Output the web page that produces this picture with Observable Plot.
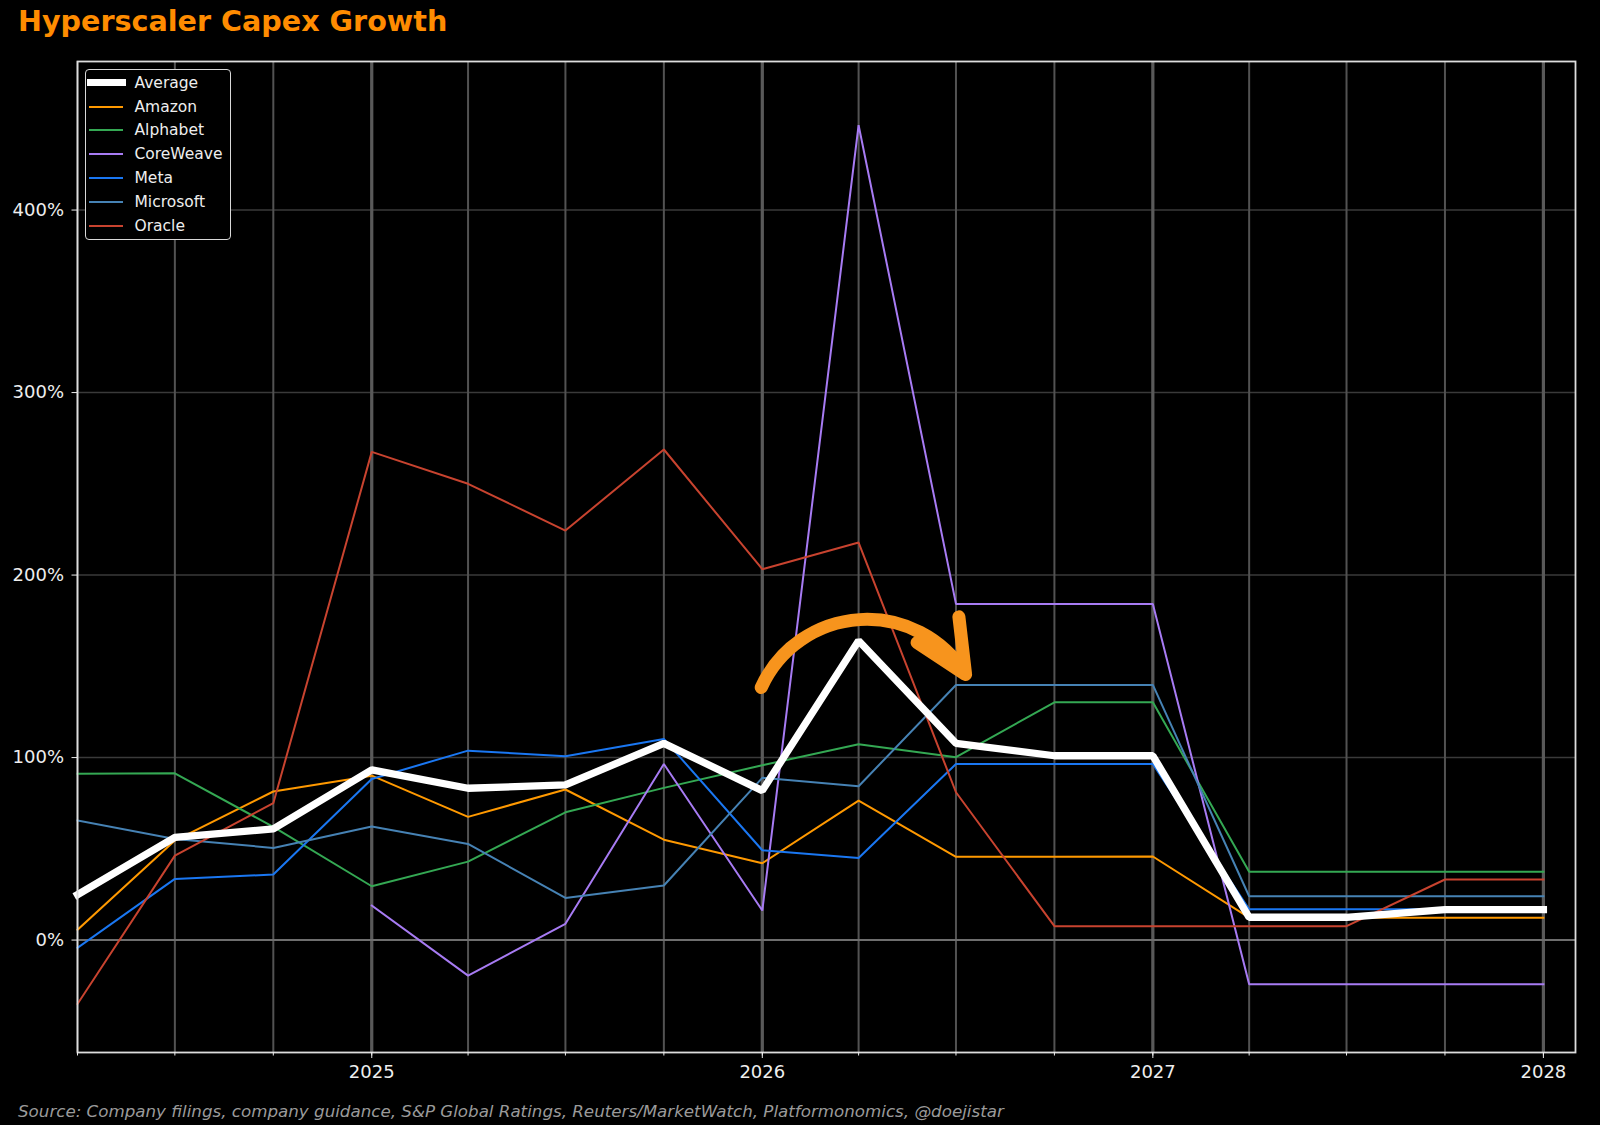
<!DOCTYPE html>
<html>
<head>
<meta charset="utf-8">
<script src="https://cdn.jsdelivr.net/npm/d3@7"></script>
<script src="https://cdn.jsdelivr.net/npm/@observablehq/plot@0.6"></script>
<style>
  body { margin: 0; background: #000; width: 1600px; height: 1125px; overflow: hidden; font-family: "DejaVu Sans", sans-serif; }
  #title { height: 46px; line-height: 42px; padding-left: 18px; color: #ff8c00; font-weight: bold; font-size: 28.6px; }
  #wrap { position: relative; height: 1052px; }
  #legend { position: absolute; left: 85px; top: 23px; width: 144px; height: 168px; border: 1.5px solid #d8d8d8; border-radius: 4px; background: #000; padding-top: 1px; box-sizing: content-box; }
  .row { height: 23.8px; display: flex; align-items: center; color: #eee; font-size: 15.5px; }
  .sw { flex: none; }
  #source { height: 27px; line-height: 27px; padding-left: 18px; color: #9a9a9a; font-style: italic; font-size: 16.7px; }
</style>
</head>
<body>
<div id="title">Hyperscaler Capex Growth</div>
<div id="wrap"><div id="chart"></div><div id="legend"></div></div>
<div id="source">Source: Company filings, company guidance, S&amp;P Global Ratings, Reuters/MarketWatch, Platformonomics, @doejistar</div>
<script>
// quarter starts on the x axis
const quarters = ["2024-04-01", "2024-07-01", "2024-10-01", "2025-01-01", "2025-04-01", "2025-07-01", "2025-10-01", "2026-01-01",
                  "2026-04-01", "2026-07-01", "2026-10-01", "2027-01-01", "2027-04-01", "2027-07-01", "2027-10-01", "2028-01-01"]
const yearTicks = ["2025-01-01", "2026-01-01", "2027-01-01", "2028-01-01"]
const yTicks = [0, 100, 200, 300, 400]

const seriesNames = ["Average", "Amazon", "Alphabet", "CoreWeave", "Meta", "Microsoft", "Oracle"]
const seriesColors = ["#ffffff", "#ff9900", "#34a853", "#a77bf3", "#1a77f2", "#4682b4", "#c8432f"]

// capex growth, % year over year
const average   = [24.9, 56.3, 60.9, 93.3, 83.2, 85.0, 107.8, 81.9, 164.0, 107.8, 101.0, 101.0, 12.5, 12.5, 16.7, 16.7]
const amazon    = [5.6, 54.5, 81.4, 90.1, 67.5, 82.5, 55.0, 42.1, 76.4, 45.6, 45.6, 45.8, 12.3, 12.3, 12.3, 12.3]
const alphabet  = [91.1, 91.4, 62.0, 29.5, 43.0, 70.0, 83.4, 95.8, 107.3, 100.2, 130.3, 130.3, 37.5, 37.5, 37.5, 37.5]
const coreweave = [null, null, null, 18.9, -19.5, 8.9, 96.5, 16.2, 446.5, 184.2, 184.2, 184.2, -24.2, -24.2, -24.2, -24.2]
const meta      = [-4.3, 33.5, 35.9, 88.3, 103.8, 100.7, 110.2, 49.2, 45.0, 96.5, 96.5, 96.5, 16.9, 16.9, 16.9, 16.9]
const microsoft = [65.5, 55.4, 50.5, 62.2, 52.7, 23.1, 29.9, 88.9, 84.3, 139.8, 139.8, 139.8, 24.0, 24.0, 24.0, 24.0]
const oracle    = [-35.0, 46.3, 75.0, 267.5, 250.0, 224.4, 268.8, 203.2, 217.8, 81.0, 7.6, 7.6, 7.6, 7.6, 33.2, 33.2]

// the curved arrow annotation (date, %)
const arrowStart = ["2025-12-31", 138.4]
const arrowEnd = ["2026-07-10", 145.5]

const seriesValues = [average, amazon, alphabet, coreweave, meta, microsoft, oracle]
const rows = seriesNames.flatMap((name, i) =>
  quarters.map((q, j) => ({series: name, date: new Date(q), value: seriesValues[i][j]}))
).filter(d => d.value != null)

const quarterDates = quarters.map(d => new Date(d))
const yearDates = yearTicks.map(d => new Date(d))

let chart = Plot.plot({
  width: 1600,
  height: 1052,
  marginTop: 15,
  marginBottom: 46,
  marginLeft: 77,
  marginRight: 25,
  style: {background: "#000", color: "#eee", fontFamily: "DejaVu Sans", fontSize: "18px"},
  x: {type: "utc", domain: [new Date("2024-04-01"), new Date("2028-01-31")]},
  y: {domain: [-61.6, 481.4], label: null},
  color: {domain: seriesNames, range: seriesColors},
  marks: [
    Plot.gridY(yTicks.slice(1), {stroke: "#3a3a3a", strokeOpacity: 1, strokeWidth: 1.5}),
    Plot.ruleX(quarterDates, {stroke: "#525252", strokeWidth: 2}),
    Plot.ruleX(yearDates, {stroke: "#595959", strokeWidth: 3.2}),
    Plot.ruleY([0], {stroke: "#6e6e6e", strokeWidth: 2}),
    Plot.line(rows.filter(d => d.series !== "Average"), {
      x: "date", y: "value", z: "series", stroke: "series",
      strokeWidth: 2, strokeLinejoin: "miter", strokeLinecap: "square"
    }),
    Plot.line(rows.filter(d => d.series === "Average"), {
      x: "date", y: "value", stroke: "#fff",
      strokeWidth: 7.3, strokeLinejoin: "miter", strokeLinecap: "square"
    }),
    Plot.arrow([{x1: new Date(arrowStart[0]), y1: arrowStart[1], x2: new Date(arrowEnd[0]), y2: arrowEnd[1]}], {
      x1: "x1", y1: "y1", x2: "x2", y2: "y2",
      bend: 62, stroke: "#f7941d", strokeWidth: 13, headLength: 6.7, headAngle: 50
    }),
    Plot.frame({stroke: "#ddd", strokeWidth: 1.8}),
    Plot.axisY(yTicks, {tickFormat: d => d + "%", tickSize: 5.5, tickPadding: 8, label: null, fontSize: 18}),
    Plot.axisX(quarterDates, {tickSize: 3.5, tickFormat: () => "", label: null}),
    Plot.axisX(yearDates, {tickFormat: d3.utcFormat("%Y"), tickSize: 6, tickPadding: 6.7, label: null, fontSize: 18})
  ]
})

d3.select('#chart').append(() => chart)

// legend, drawn like the matplotlib one
const legend = d3.select('#legend')
seriesNames.forEach((name, i) => {
  const thick = name === "Average"
  const row = legend.append('div').attr('class', 'row')
  row.append('div').attr('class', 'sw')
    .style('margin-left', thick ? '0.5px' : '2.5px')
    .style('width', thick ? '39px' : '34px')
    .style('height', thick ? '7px' : '2px')
    .style('margin-right', thick ? '9px' : '12px')
    .style('background', seriesColors[i])
  row.append('span').text(name)
})
</script>
</body>
</html>
